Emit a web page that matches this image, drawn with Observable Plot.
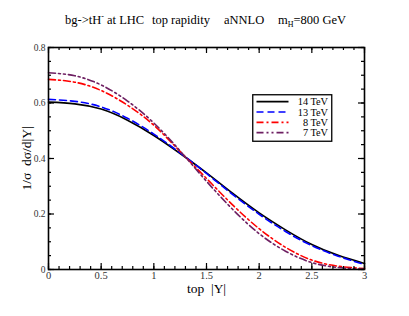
<!DOCTYPE html>
<html><head><meta charset="utf-8">
<script src="https://cdn.jsdelivr.net/npm/d3@7"></script>
<script src="https://cdn.jsdelivr.net/npm/@observablehq/plot@0.6"></script>
<style>
body{margin:0;background:#fff;}
#wrap{position:relative;width:409px;height:316px;font-family:"Liberation Serif","Times New Roman",serif;color:#000;}
#wrap svg{display:block;}
.t{position:absolute;top:14px;font-size:12.5px;white-space:nowrap;line-height:1;}
.t sub{font-size:8px;vertical-align:-3px;line-height:0;}
.t sup{font-size:8px;vertical-align:5px;line-height:0;}
#legend{position:absolute;left:252px;top:94px;}
</style></head><body>
<div id="wrap"></div>
<script>
// |Y| of top quark
const rapidity = [0, 0.25, 0.5, 0.75, 1.0, 1.25, 1.5, 1.75, 2.0, 2.25, 2.5, 2.75, 3.0];
const tev14 = [0.603, 0.597, 0.578, 0.538, 0.483, 0.418, 0.348, 0.274, 0.204, 0.143, 0.090, 0.051, 0.022];
const tev13 = [0.613, 0.606, 0.586, 0.545, 0.488, 0.420, 0.346, 0.270, 0.199, 0.137, 0.086, 0.048, 0.018];
const tev8  = [0.685, 0.675, 0.645, 0.592, 0.520, 0.425, 0.328, 0.232, 0.147, 0.080, 0.034, 0.012, 0.003];
const tev7  = [0.709, 0.698, 0.665, 0.607, 0.528, 0.427, 0.318, 0.216, 0.129, 0.066, 0.025, 0.007, 0.001];
const seriesNames = ["14 TeV", "13 TeV", "8 TeV", "7 TeV"];
const seriesValues = [tev14, tev13, tev8, tev7];
const xTicks = [0, 0.5, 1, 1.5, 2, 2.5, 3];
const xTickLabels = ["0", "0.5", "1", "1.5", "2", "2.5", "3"];
const yTicks = [0, 0.2, 0.4, 0.6, 0.8];
const yTickLabels = ["0", "0.2", "0.4", "0.6", "0.8"];
const xMinor = d3.range(0, 31).map(i => i / 10);
const yMinor = d3.range(0, 17).map(i => i / 20);
const xLabel = "top  |Y|";
const yLabel = "1/\u03c3  d\u03c3/d|Y|";

const styles = [
  {stroke: "#000000", dash: null},
  {stroke: "#0000ff", dash: "7,4"},
  {stroke: "#ff0000", dash: "7,3,2,3"},
  {stroke: "#6e1f62", dash: "7,3,2,3,2,3"}
];

const rows = seriesNames.map((name, s) => rapidity.map((y, i) => ({y, v: seriesValues[s][i], name})));

const W = 409, H = 316, ML = 48, MR = 45, MT = 47, MB = 47;
const PW = W - ML - MR, PH = H - MT - MB;
const ff = "Liberation Serif, Times New Roman, serif";
const tickMarks = (vals, len) => [
  Plot.ruleX(vals, {x: d => d, insetTop: PH - len, stroke: "#000", strokeWidth: 1.2}),
  Plot.ruleX(vals, {x: d => d, insetBottom: PH - len, stroke: "#000", strokeWidth: 1.2})
];
const tickMarksY = (vals, len) => [
  Plot.ruleY(vals, {y: d => d, insetRight: PW - len, stroke: "#000", strokeWidth: 1.2}),
  Plot.ruleY(vals, {y: d => d, insetLeft: PW - len, stroke: "#000", strokeWidth: 1.2})
];

const chart = Plot.plot({
  width: W, height: H,
  marginLeft: ML, marginRight: MR, marginTop: MT, marginBottom: MB,
  style: {fontFamily: ff, background: "#fff"},
  x: {domain: [0, 3], axis: null},
  y: {domain: [0, 0.8], axis: null},
  marks: [
    ...rows.map((r, s) => Plot.line(r, {x: "y", y: "v", stroke: styles[s].stroke, strokeWidth: 1.6, strokeDasharray: styles[s].dash, curve: "natural"})),
    ...tickMarks(xMinor, 3),
    ...tickMarks(xTicks, 6),
    ...tickMarksY(yMinor, 3),
    ...tickMarksY(yTicks, 6),
    Plot.axisX({anchor: "bottom", ticks: xTicks, tickSize: 0, tickPadding: 2, fontSize: 10.5, fill: "#333", fontFamily: ff,
      tickFormat: d => xTickLabels[xTicks.indexOf(d)], label: null}),
    Plot.axisY({anchor: "left", ticks: yTicks, tickSize: 0, tickPadding: 3, fontSize: 9.5, fill: "#333", fontFamily: ff,
      tickFormat: d => yTickLabels[yTicks.indexOf(d)], label: null}),
    Plot.frame({stroke: "#000", strokeWidth: 1.6}),
    Plot.text([xLabel], {frameAnchor: "bottom", dy: 19, lineAnchor: "middle", textAnchor: "middle", fontSize: 13.5, fill: "#000", fontFamily: ff}),
    Plot.text([yLabel], {frameAnchor: "left", dx: -22, rotate: -90, lineAnchor: "middle", textAnchor: "middle", fontSize: 13.5, fill: "#000", fontFamily: ff})
  ]
});
const wrap = document.getElementById("wrap");
wrap.appendChild(chart);

// title pieces
const titles = [
  {left: 65, html: "bg-&gt;tH<sup>-</sup> at LHC"},
  {left: 152, html: "top rapidity"},
  {left: 224, html: "aNNLO"},
  {left: 278, html: "m<sub>H</sub>=800 GeV"}
];
titles.forEach(t => {
  const d = document.createElement("div");
  d.className = "t"; d.style.left = t.left + "px"; d.innerHTML = t.html;
  wrap.appendChild(d);
});

// legend
const ns = "http://www.w3.org/2000/svg";
const lg = document.createElementNS(ns, "svg");
lg.setAttribute("id", "legend");
lg.setAttribute("width", 81); lg.setAttribute("height", 48);
const box = document.createElementNS(ns, "rect");
box.setAttribute("x", 0.75); box.setAttribute("y", 0.75); box.setAttribute("width", 79); box.setAttribute("height", 46.5);
box.setAttribute("fill", "#fff"); box.setAttribute("stroke", "#000"); box.setAttribute("stroke-width", 1.3);
lg.appendChild(box);
seriesNames.forEach((name, s) => {
  const yy = 7.7 + s * 10.3;
  const ln = document.createElementNS(ns, "line");
  ln.setAttribute("x1", 4.5); ln.setAttribute("x2", 36.5); ln.setAttribute("y1", yy); ln.setAttribute("y2", yy);
  ln.setAttribute("stroke", styles[s].stroke); ln.setAttribute("stroke-width", 1.7);
  if (styles[s].dash) ln.setAttribute("stroke-dasharray", styles[s].dash);
  lg.appendChild(ln);
  const tx = document.createElementNS(ns, "text");
  tx.setAttribute("x", 76); tx.setAttribute("y", yy + 3.5); tx.setAttribute("text-anchor", "end");
  tx.setAttribute("font-size", 10.3); tx.setAttribute("font-family", ff);
  tx.textContent = name;
  lg.appendChild(tx);
});
wrap.appendChild(lg);
</script>
</body></html>
